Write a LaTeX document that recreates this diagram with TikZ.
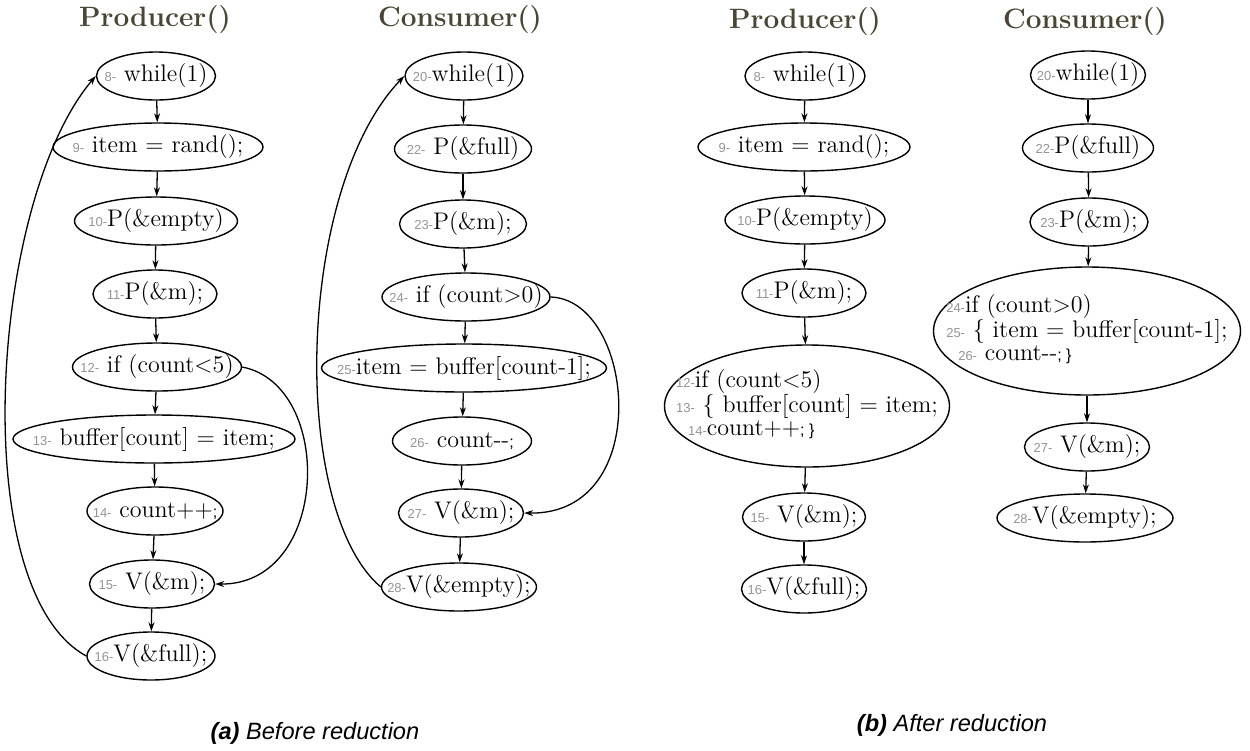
\documentclass[tikz,border=0pt]{standalone}
\usepackage{fontspec}
\usepackage{tikz}
\usetikzlibrary{shapes.geometric,arrows.meta}
\newfontfamily\helv{Liberation Sans}
\definecolor{titlecol}{HTML}{4B4634}
\definecolor{lngray}{gray}{0.58}
\newcommand{\lno}[1]{{\helv\fontsize{6.5}{7}\selectfont\color{lngray}#1-}}
\newcommand{\cd}[1]{\makebox[0pt]{#1}}
\newcommand{\smsf}[1]{{\helv\fontsize{8}{9}\selectfont#1}}

\begin{document}
\begin{tikzpicture}[x=0.5pt,y=-0.5pt,
 every node/.style={font=\fontsize{12}{13}\selectfont},
 stmt/.style={draw,ellipse,line width=0.7pt,inner sep=0pt,
   minimum height=24pt,minimum width=#1},
 title/.style={font=\fontsize{14}{16}\selectfont\bfseries,text=titlecol},
 caption/.style={font=\helv\fontsize{11.8}{13}\selectfont\itshape},
 flow/.style={-{Stealth[length=4.5pt,width=3pt]},line width=0.65pt}]
\useasboundingbox (0,0) rectangle (1250,751);
% (a) before reduction
\node[title] (tpa) at (155,20) {Producer()};
\node[stmt=59.5pt] (p8) at (156,76) {\cd{\lno{8} while(1)}};
\node[stmt=105pt] (p9) at (158,147) {\cd{\lno{9}\ item = rand();}};
\node[stmt=81.5pt] (p10) at (156,221) {\cd{\lno{10}P(\&empty)}};
\node[stmt=62pt] (p11) at (155,294) {\cd{\lno{11}P(\&m);}};
\node[stmt=84.5pt] (p12) at (157,367) {\cd{\lno{12} if (count<5)}};
\node[stmt=141pt] (p13) at (154,439) {\cd{\lno{13}\ buffer[count] = item;}};
\node[stmt=68pt] (p14) at (155,511) {\cd{\lno{14}\ count++\smsf{;}}};
\node[stmt=62.5pt] (p15) at (152,584) {\cd{\lno{15} V(\&m);}};
\node[stmt=64pt] (p16) at (151,656) {\cd{\lno{16}V(\&full);}};

\node[title] (tca) at (460,20) {Consumer()};
\node[stmt=59pt] (c20) at (464,76) {\cd{\lno{20}while(1)}};
\node[stmt=68.5pt] (c22) at (463,149) {\cd{\lno{22} P(\&full)}};
\node[stmt=63.5pt] (c23) at (463,224) {\cd{\lno{23}P(\&m);}};
\node[stmt=84pt] (c24) at (466,297) {\cd{\lno{24} if (count>0)}};
\node[stmt=142.5pt] (c25) at (464,368) {\cd{\lno{25}item = buffer[count-1];}};
\node[stmt=69.5pt] (c26) at (462,441) {\cd{\lno{26}\ count-{}-\smsf{;}}};
\node[stmt=62.5pt] (c27) at (461,513) {\cd{\lno{27} V(\&m);}};
\node[stmt=77.5pt] (c28) at (459,587) {\cd{\lno{28}V(\&empty);}};

% (b) after reduction
\node[title] (tpb) at (805,22) {Producer()};
\node[stmt=60pt] (q8) at (805,76) {\cd{\lno{8} while(1)}};
\node[stmt=106pt] (q9) at (804,147) {\cd{\lno{9}\ item = rand();}};
\node[stmt=80pt] (q10) at (805,220) {\cd{\lno{10}P(\&empty)}};
\node[stmt=62pt] (q11) at (804,293) {\cd{\lno{11}P(\&m);}};
\node[stmt=142.5pt,minimum height=61pt] (q12) at (807,406) {\cd{%
  \renewcommand\arraystretch{0.88}\begin{tabular}{@{}l@{}}
  \lno{12}if (count<5)\\
  \lno{13} \{ buffer[count] = item;\\
  \hspace{0.5em}\lno{14}count++\smsf{; \}}
  \end{tabular}}};
\node[stmt=61.5pt] (q15) at (804,517) {\cd{\lno{15} V(\&m);}};
\node[stmt=62.5pt] (q16) at (804,589) {\cd{\lno{16}V(\&full);}};

\node[title] (tcb) at (1085,22) {Consumer()};
\node[stmt=57.5pt] (d20) at (1088,75) {\cd{\lno{20}while(1)}};
\node[stmt=65.5pt] (d22) at (1088,148) {\cd{\lno{22}P(\&full)}};
\node[stmt=59pt] (d23) at (1089,222) {\cd{\lno{23}P(\&m);}};
\node[stmt=153.5pt,minimum height=64pt] (d24) at (1087,331) {\cd{%
  \renewcommand\arraystretch{0.88}\begin{tabular}{@{}l@{}}
  \lno{24}if (count>0)\\
  \lno{25} \{ item = buffer[count-1];\\
  \hspace{0.5em}\lno{26} count-{}-\smsf{; \}}
  \end{tabular}}};
\node[stmt=62.5pt] (d27) at (1087,447) {\cd{\lno{27} V(\&m);}};
\node[stmt=88pt] (d28) at (1085,518) {\cd{\lno{28}V(\&empty);}};

\foreach \a/\b in {p8/p9,p9/p10,p10/p11,p11/p12,p12/p13,p13/p14,p14/p15,p15/p16,
  c20/c22,c22/c23,c23/c24,c24/c25,c25/c26,c26/c27,c27/c28,
  q8/q9,q9/q10,q10/q11,q11/q12,q12/q15,q15/q16,
  d20/d22,d22/d23,d23/d24,d24/d27,d27/d28}
  \draw[flow] (\a) -- (\b);
\draw[flow] (p16.west) .. controls (-35,590) and (-10,200) .. (p8.west);
\draw[flow] (p12.east) .. controls (335,385) and (330,585) .. (p15.east);
\draw[flow] (c28.west) .. controls (290,510) and (295,190) .. (c20.west);
\draw[flow] (c24.east) .. controls (635,300) and (655,515) .. (c27.east);

\node[caption] (capa) at (315,733) {{\bfseries (a)} Before reduction};
\node[caption] (capb) at (952,725) {{\bfseries (b)} After reduction};
\end{tikzpicture}
\end{document}
